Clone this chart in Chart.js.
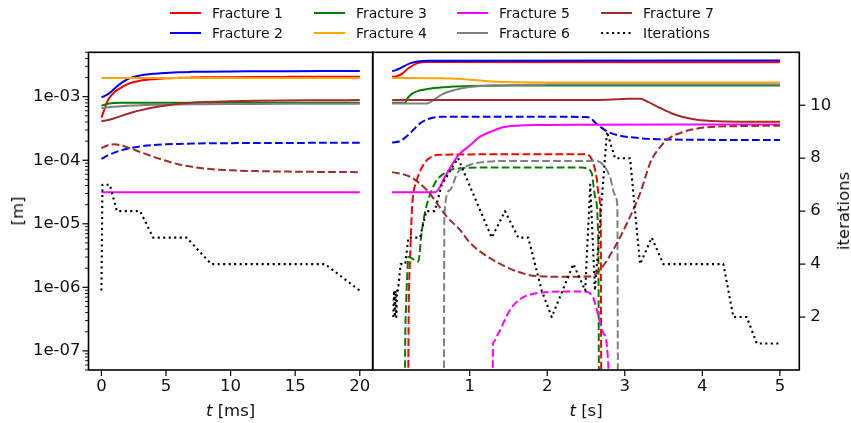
<!DOCTYPE html>
<html>
<head>
<meta charset="utf-8">
<script src="https://cdn.jsdelivr.net/npm/chart.js@4.4.1/dist/chart.umd.min.js"></script>
<style>
  html, body { margin:0; padding:0; background:#fff; }
  #wrap { position:relative; width:851px; height:423px; overflow:hidden; font-family:'DejaVu Sans', sans-serif; color:#111; }
  #wrap canvas { position:absolute; left:0; top:0; }
  .lbl { position:absolute; font-size:16.5px; line-height:20px; white-space:nowrap; transform:translate(-50%,-50%); }
  .rot { transform:translate(-50%,-50%) rotate(-90deg); }
  .legtxt { position:absolute; font-size:14px; line-height:16px; white-space:nowrap; }
  .legsvg { position:absolute; overflow:visible; }
</style>
</head>
<body>
<div id="wrap">
  <canvas id="left" width="851" height="423"></canvas>
  <canvas id="right" width="851" height="423"></canvas>
  <div id="legend"></div>
  <div class="lbl rot" style="left:18px;top:211px">[m]</div>
  <div class="lbl rot" style="left:844px;top:211px">iterations</div>
  <div class="lbl" style="left:230.6px;top:411px"><i>t</i> [ms]</div>
  <div class="lbl" style="left:586px;top:411px"><i>t</i> [s]</div>
</div>
<script>
// ---------------- DATA ----------------
const legendLabels = ['Fracture 1','Fracture 2','Fracture 3','Fracture 4','Fracture 5','Fracture 6','Fracture 7','Iterations'];

const yTickValues = [1e-7, 1e-6, 1e-5, 1e-4, 1e-3];
const yTickLabels = ['1e-07','1e-06','1e-05','1e-04','1e-03'];
const iterTickValues = [2, 4, 6, 8, 10];
const xTicksLeft = [0, 5, 10, 15, 20];
const xTicksRight = [1, 2, 3, 4, 5];

// Left panel (t in ms)
const leftTimeMs = [0, 0.25, 0.5, 0.75, 1, 1.5, 2, 2.5, 3, 4, 5, 6, 7, 8, 10, 12, 14, 17, 20];
const leftF1 = [4.7e-4, 6.5e-4, 8.8e-4, 1.04e-3, 1.18e-3, 1.38e-3, 1.56e-3, 1.7e-3, 1.79e-3, 1.89e-3, 1.95e-3, 1.98e-3, 2.0e-3, 2.02e-3, 2.03e-3, 2.04e-3, 2.05e-3, 2.06e-3, 2.06e-3];
const leftF2 = [9.8e-4, 1.03e-3, 1.1e-3, 1.2e-3, 1.33e-3, 1.62e-3, 1.88e-3, 2.05e-3, 2.16e-3, 2.29e-3, 2.37e-3, 2.43e-3, 2.46e-3, 2.48e-3, 2.5e-3, 2.51e-3, 2.52e-3, 2.53e-3, 2.53e-3];
const leftF3 = [7.2e-4, 7.5e-4, 7.75e-4, 7.9e-4, 7.98e-4, 8.02e-4, 8.03e-4, 8.04e-4, 8.04e-4, 8.04e-4, 8.04e-4, 8.04e-4, 8.04e-4, 8.04e-4, 8.04e-4, 8.04e-4, 8.04e-4, 8.04e-4, 8.04e-4];
const leftF4 = [1.97e-3, 1.97e-3, 1.97e-3, 1.97e-3, 1.97e-3, 1.97e-3, 1.97e-3, 1.97e-3, 1.97e-3, 1.97e-3, 1.97e-3, 1.97e-3, 1.97e-3, 1.97e-3, 1.97e-3, 1.97e-3, 1.97e-3, 1.97e-3, 1.97e-3];
const leftF5 = [3.14e-5, 3.14e-5, 3.14e-5, 3.14e-5, 3.14e-5, 3.14e-5, 3.14e-5, 3.14e-5, 3.14e-5, 3.14e-5, 3.14e-5, 3.14e-5, 3.14e-5, 3.14e-5, 3.14e-5, 3.14e-5, 3.14e-5, 3.14e-5, 3.14e-5];
const leftF6 = [6.6e-4, 6.7e-4, 6.8e-4, 6.88e-4, 6.95e-4, 7.07e-4, 7.18e-4, 7.27e-4, 7.35e-4, 7.45e-4, 7.52e-4, 7.57e-4, 7.61e-4, 7.64e-4, 7.68e-4, 7.71e-4, 7.73e-4, 7.75e-4, 7.76e-4];
const leftF7 = [4.15e-4, 4.2e-4, 4.3e-4, 4.43e-4, 4.58e-4, 4.95e-4, 5.35e-4, 5.75e-4, 6.1e-4, 6.75e-4, 7.3e-4, 7.75e-4, 8.05e-4, 8.25e-4, 8.5e-4, 8.65e-4, 8.75e-4, 8.8e-4, 8.85e-4];
const leftF2Dashed = [1.05e-4, 1.12e-4, 1.19e-4, 1.26e-4, 1.32e-4, 1.43e-4, 1.52e-4, 1.59e-4, 1.65e-4, 1.73e-4, 1.78e-4, 1.81e-4, 1.83e-4, 1.85e-4, 1.86e-4, 1.87e-4, 1.87e-4, 1.88e-4, 1.88e-4];
const leftF7Dashed = [1.55e-4, 1.64e-4, 1.72e-4, 1.77e-4, 1.78e-4, 1.72e-4, 1.6e-4, 1.47e-4, 1.35e-4, 1.14e-4, 9.8e-5, 8.6e-5, 7.9e-5, 7.4e-5, 6.95e-5, 6.75e-5, 6.65e-5, 6.55e-5, 6.5e-5];
const leftIterTime = [0, 0.08, 0.65, 1.2, 3.0, 4.0, 6.6, 8.5, 17.3, 20];
const leftIter = [3, 7, 7, 6, 6, 5, 5, 4, 4, 3];

// Right panel (t in s)
const rF1T = [0, 0.06, 0.14, 0.21, 0.32, 0.45, 0.7, 5];
const rF1 = [2.06e-3, 2.1e-3, 2.35e-3, 2.8e-3, 3.35e-3, 3.52e-3, 3.52e-3, 3.48e-3];
const rF2T = [0, 0.04, 0.1, 0.23, 0.35, 0.47, 5];
const rF2 = [2.53e-3, 2.6e-3, 2.8e-3, 3.35e-3, 3.6e-3, 3.68e-3, 3.72e-3];
const rF3T = [0, 0.166, 0.2, 0.25, 0.35, 0.5, 0.75, 1.0, 1.5, 5];
const rF3 = [8.04e-4, 8.04e-4, 9.5e-4, 1.1e-3, 1.25e-3, 1.35e-3, 1.43e-3, 1.47e-3, 1.5e-3, 1.5e-3];
const rF4T = [0, 0.6, 0.9, 1.2, 1.45, 2, 5];
const rF4 = [1.97e-3, 1.96e-3, 1.9e-3, 1.77e-3, 1.7e-3, 1.67e-3, 1.67e-3];
const rF5T = [0, 0.553, 0.7, 0.854, 1.0, 1.133, 1.3, 1.43, 1.6, 1.9, 2.5, 5];
const rF5 = [3.14e-5, 3.14e-5, 6.0e-5, 1.2e-4, 1.7e-4, 2.35e-4, 2.9e-4, 3.3e-4, 3.5e-4, 3.6e-4, 3.63e-4, 3.65e-4];
const rF6T = [0, 0.45, 0.55, 0.65, 0.8, 1.0, 1.4, 2.0, 5];
const rF6 = [7.8e-4, 7.85e-4, 9.2e-4, 1.1e-3, 1.27e-3, 1.42e-3, 1.52e-3, 1.55e-3, 1.56e-3];
const rF7T = [0, 2.6, 2.9, 3.05, 3.2, 3.3, 3.45, 3.6, 3.75, 3.93, 4.2, 4.6, 5];
const rF7 = [8.85e-4, 8.9e-4, 9.1e-4, 9.25e-4, 9.25e-4, 8.3e-4, 6.7e-4, 5.5e-4, 4.8e-4, 4.35e-4, 4.12e-4, 4.05e-4, 4.05e-4];

const rF1dT = [0.205, 0.209, 0.215, 0.23, 0.245, 0.26, 0.32, 0.38, 0.446, 0.52, 0.6, 1.5, 2.5, 2.55, 2.594, 2.64, 2.66, 2.69, 2.695, 2.7];
const rF1d = [1e-9, 5e-8, 5e-7, 2.5e-6, 8e-6, 2.0e-5, 4.9e-5, 7.5e-5, 1.0e-4, 1.15e-4, 1.22e-4, 1.24e-4, 1.24e-4, 1.15e-4, 9e-5, 5e-5, 3e-5, 9e-6, 1e-7, 1e-9];
const rF2dT = [0, 0.1, 0.23, 0.36, 0.49, 0.62, 1.0, 2.5, 2.56, 2.62, 2.68, 2.77, 2.9, 3.2, 3.6, 5];
const rF2d = [1.9e-4, 2.0e-4, 2.65e-4, 3.8e-4, 4.55e-4, 4.82e-4, 4.85e-4, 4.8e-4, 4.6e-4, 3.9e-4, 3.4e-4, 2.85e-4, 2.5e-4, 2.22e-4, 2.12e-4, 2.08e-4];
const rF3dT = [0.163, 0.167, 0.18, 0.195, 0.209, 0.338, 0.382, 0.424, 0.467, 0.553, 0.704, 0.876, 1.2, 2.45, 2.5, 2.574, 2.616, 2.659, 2.665, 2.67];
const rF3d = [1e-9, 5e-8, 5e-7, 1.5e-6, 3.0e-6, 2.55e-6, 7.5e-6, 1.5e-5, 2.4e-5, 4.4e-5, 6.6e-5, 7.5e-5, 7.7e-5, 7.7e-5, 7.5e-5, 6.25e-5, 2.7e-5, 5e-6, 1e-7, 1e-9];
const rF5dT = [1.296, 1.3, 1.31, 1.35, 1.391, 1.45, 1.52, 1.6, 1.692, 1.8, 1.907, 2.2, 2.487, 2.594, 2.638, 2.723, 2.788, 2.8];
const rF5d = [1e-9, 1.3e-7, 1.38e-7, 1.7e-7, 2.1e-7, 3.0e-7, 4.4e-7, 5.8e-7, 7.0e-7, 7.8e-7, 8.2e-7, 8.6e-7, 8.6e-7, 6.8e-7, 4.5e-7, 1.9e-7, 5.7e-8, 1e-9];
const rF6dT = [0.665, 0.669, 0.672, 0.675, 0.747, 0.841, 1.005, 1.2, 1.5, 2.638, 2.723, 2.809, 2.874, 2.904, 2.91, 2.915];
const rF6d = [1e-9, 5e-8, 5e-6, 1.5e-5, 3.4e-5, 6.3e-5, 8.5e-5, 9.4e-5, 9.75e-5, 9.75e-5, 8.4e-5, 5.5e-5, 2.85e-5, 1.9e-5, 1e-7, 1e-9];
const rF7dT = [0, 0.231, 0.446, 0.704, 0.876, 1.005, 1.3, 1.6, 1.865, 2.2, 2.552, 2.681, 2.852, 3.025, 3.197, 3.326, 3.368, 3.454, 3.541, 3.755, 4.057, 4.5, 5];
const rF7d = [6.5e-5, 5.5e-5, 3.4e-5, 1.3e-5, 8e-6, 5e-6, 2.7e-6, 1.8e-6, 1.5e-6, 1.47e-6, 1.48e-6, 1.9e-6, 3.9e-6, 1.0e-5, 3.0e-5, 9e-5, 1.15e-4, 1.6e-4, 2.1e-4, 2.8e-4, 3.3e-4, 3.45e-4, 3.5e-4];

const rightIterTime = [0.015, 0.025, 0.035, 0.045, 0.055, 0.065, 0.075, 0.11, 0.17, 0.21, 0.36, 0.44, 0.55, 0.64, 0.85, 1.285, 1.456, 1.627, 1.756, 1.929, 2.058, 2.337, 2.49, 2.555, 2.615, 2.77, 2.874, 3.068, 3.197, 3.348, 3.497, 4.271, 4.4, 4.573, 4.702, 5.0];
const rightIter = [2, 3, 2, 3, 2, 3, 3, 4, 4, 5, 5, 6, 6, 7, 8, 5, 6, 5, 5, 3, 2, 4, 3, 7, 3, 9, 8, 8, 4, 5, 4, 4, 2, 2, 1, 1];

// ---------------- STYLE / BUILD ----------------
const COL = { f1:'#ff0000', f2:'#0000ff', f3:'#008000', f4:'#ffa500', f5:'#ff00ff', f6:'#808080', f7:'#a52a2a', it:'#000000' };
const legendColors = [COL.f1, COL.f2, COL.f3, COL.f4, COL.f5, COL.f6, COL.f7, COL.it];
const DASH = [7.7, 3.3];
const DOT = [2.1, 3.4];
const FONT = "'DejaVu Sans', sans-serif";
const TXT = '#111111';

const zip = (t, v) => t.map((x, i) => ({ x, y: v[i] }));
let orderCounter = 100;
function line(t, v, color, dash, axis, smooth) {
  return {
    data: zip(t, v), borderColor: color, borderWidth: dash === DOT ? 2.1 : 2,
    borderDash: dash || [], borderCapStyle: 'butt', borderJoinStyle: 'round',
    pointRadius: 0, pointHoverRadius: 0, fill: false,
    cubicInterpolationMode: smooth ? 'monotone' : 'default', tension: 0,
    yAxisID: axis, order: axis === 'y1' ? 0 : orderCounter--, clip: 0
  };
}

const mplAxes = {
  id: 'mplAxes',
  afterDatasetsDraw(chart, args, opts) {
    const { ctx, chartArea: a } = chart;
    const seg = (x1, y1, x2, y2) => { ctx.beginPath(); ctx.moveTo(x1, y1); ctx.lineTo(x2, y2); ctx.stroke(); };
    ctx.save();
    ctx.strokeStyle = '#000';
    ctx.lineWidth = 1.2;
    const xs = chart.scales.x;
    for (const v of opts.xTicks) { const p = xs.getPixelForValue(v); seg(p, a.bottom, p, a.bottom + 6); }
    if (opts.logTicks) {
      const ys = chart.scales.y;
      for (let e = -8; e <= -3; e++) for (let k = 1; k <= 9; k++) {
        const v = k * Math.pow(10, e);
        if (v < ys.min * 0.9999 || v > ys.max * 1.0001) continue;
        const p = ys.getPixelForValue(v);
        ctx.lineWidth = k === 1 ? 1.2 : 0.9;
        seg(a.left - (k === 1 ? 6 : 3.5), p, a.left, p);
      }
    }
    if (opts.iterTicks) {
      const y1 = chart.scales.y1;
      ctx.lineWidth = 1.2;
      for (const v of opts.iterTicks) { const p = y1.getPixelForValue(v); seg(a.right, p, a.right + 6, p); }
    }
    ctx.lineWidth = 1.6;
    ctx.strokeRect(a.left, a.top, a.right - a.left, a.bottom - a.top);
    ctx.restore();
  }
};

const tickFont = { family: FONT, size: 16.5 };
const TOP = 52.3, BOTTOM_H = 53, LEFT_W = 88.5, MID = 372.7, RIGHT_W = 51.7;

function xScale(min, max, ticks) {
  return {
    type: 'linear', min, max, position: 'bottom',
    grid: { display: false, drawTicks: false }, border: { display: false },
    afterBuildTicks: s => { s.ticks = ticks.map(v => ({ value: v })); },
    afterFit: s => { s.height = BOTTOM_H; },
    ticks: { font: tickFont, color: TXT, padding: 7, maxRotation: 0, autoSkip: false, callback: v => String(v) }
  };
}
function logScale(display) {
  return {
    type: 'logarithmic', min: 5e-8, max: 5e-3, position: 'left', display, bounds: 'data',
    grid: { display: false, drawTicks: false }, border: { display: false },
    afterBuildTicks: s => { s.ticks = yTickValues.map(v => ({ value: v })); },
    afterFit: s => { s.width = display ? LEFT_W : 0; },
    ticks: { font: tickFont, color: TXT, padding: 8, autoSkip: false, callback: (v, i) => yTickLabels[i] }
  };
}
function iterScale(display) {
  return {
    type: 'linear', min: 0, max: 12, position: 'right', display,
    grid: { display: false, drawTicks: false }, border: { display: false },
    afterBuildTicks: s => { s.ticks = iterTickValues.map(v => ({ value: v })); },
    afterFit: s => { s.width = display ? RIGHT_W : 0; },
    ticks: { font: tickFont, color: TXT, padding: 11, autoSkip: false, callback: v => String(v) }
  };
}
const common = {
  responsive: false, animation: false, devicePixelRatio: 1,
  events: [],
  plugins: { legend: { display: false }, tooltip: { enabled: false } }
};

// Left chart
orderCounter = 100;
const leftDatasets = [
  line(leftTimeMs, leftF1, COL.f1, null, 'y', true),
  line(leftTimeMs, leftF2, COL.f2, null, 'y', true),
  line(leftTimeMs, leftF2Dashed, COL.f2, DASH, 'y', true),
  line(leftTimeMs, leftF3, COL.f3, null, 'y', true),
  line(leftTimeMs, leftF4, COL.f4, null, 'y', true),
  line(leftTimeMs, leftF5, COL.f5, null, 'y', true),
  line(leftTimeMs, leftF6, COL.f6, null, 'y', true),
  line(leftTimeMs, leftF7, COL.f7, null, 'y', true),
  line(leftTimeMs, leftF7Dashed, COL.f7, DASH, 'y', true),
  line(leftIterTime, leftIter, COL.it, DOT, 'y1', false)
];
new Chart(document.getElementById('left'), {
  type: 'line',
  data: { datasets: leftDatasets },
  options: Object.assign({}, common, {
    layout: { padding: { left: 0, top: TOP, right: 851 - MID, bottom: 0 } },
    scales: { x: xScale(-1, 21, xTicksLeft), y: logScale(true), y1: iterScale(false) },
    plugins: Object.assign({}, common.plugins, { mplAxes: { xTicks: xTicksLeft, logTicks: true } })
  }),
  plugins: [mplAxes]
});

// Right chart
orderCounter = 100;
const rightDatasets = [
  line(rF1T, rF1, COL.f1, null, 'y', true),
  line(rF1dT, rF1d, COL.f1, DASH, 'y', true),
  line(rF2T, rF2, COL.f2, null, 'y', true),
  line(rF2dT, rF2d, COL.f2, DASH, 'y', true),
  line(rF3T, rF3, COL.f3, null, 'y', true),
  line(rF3dT, rF3d, COL.f3, DASH, 'y', true),
  line(rF4T, rF4, COL.f4, null, 'y', true),
  line(rF5T, rF5, COL.f5, null, 'y', true),
  line(rF5dT, rF5d, COL.f5, DASH, 'y', true),
  line(rF6T, rF6, COL.f6, null, 'y', true),
  line(rF6dT, rF6d, COL.f6, DASH, 'y', true),
  line(rF7T, rF7, COL.f7, null, 'y', true),
  line(rF7dT, rF7d, COL.f7, DASH, 'y', true),
  line(rightIterTime, rightIter, COL.it, DOT, 'y1', false)
];
new Chart(document.getElementById('right'), {
  type: 'line',
  data: { datasets: rightDatasets },
  options: Object.assign({}, common, {
    layout: { padding: { left: MID, top: TOP, right: 0, bottom: 0 } },
    scales: { x: xScale(-0.25, 5.25, xTicksRight), y: logScale(false), y1: iterScale(true) },
    plugins: Object.assign({}, common.plugins, { mplAxes: { xTicks: xTicksRight, iterTicks: iterTickValues } })
  }),
  plugins: [mplAxes]
});

// Legend (4 columns, filled column-wise)
const legCols = [170, 314, 457, 601];
const legRows = [12.7, 33.3];
const legEl = document.getElementById('legend');
legendLabels.forEach((lab, i) => {
  const cx = legCols[Math.floor(i / 2)], cy = legRows[i % 2];
  const svg = document.createElementNS('http://www.w3.org/2000/svg', 'svg');
  svg.setAttribute('class', 'legsvg');
  svg.setAttribute('width', '31'); svg.setAttribute('height', '4');
  svg.style.left = cx + 'px'; svg.style.top = (cy - 2) + 'px';
  const ln = document.createElementNS('http://www.w3.org/2000/svg', 'line');
  ln.setAttribute('x1', '0'); ln.setAttribute('x2', '31'); ln.setAttribute('y1', '2'); ln.setAttribute('y2', '2');
  ln.setAttribute('stroke', legendColors[i]);
  ln.setAttribute('stroke-width', '2');
  if (lab === 'Iterations') ln.setAttribute('stroke-dasharray', DOT.join(','));
  svg.appendChild(ln);
  legEl.appendChild(svg);
  const tx = document.createElement('div');
  tx.className = 'legtxt';
  tx.textContent = lab;
  tx.style.left = (cx + 42) + 'px';
  tx.style.top = (cy - 8) + 'px';
  legEl.appendChild(tx);
});
</script>
</body>
</html>
